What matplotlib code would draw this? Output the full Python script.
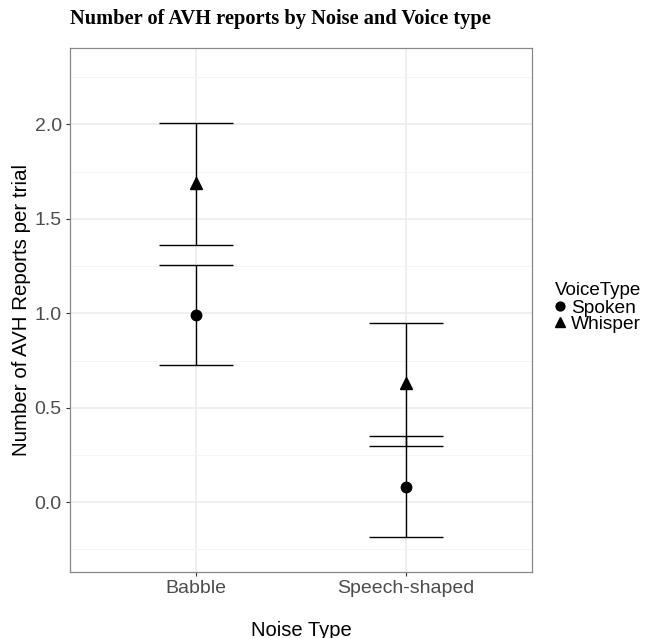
import matplotlib
matplotlib.use("Agg")
import matplotlib.pyplot as plt
import numpy as np

noise_types = ["Babble", "Speech-shaped"]
voice_types = ["Spoken", "Whisper"]
means = {"Spoken": [0.99, 0.08], "Whisper": [1.69, 0.63]}
lower = {"Spoken": [0.725, -0.185], "Whisper": [1.36, 0.298]}
upper = {"Spoken": [1.258, 0.349], "Whisper": [2.01, 0.947]}
markers = {"Spoken": "o", "Whisper": "^"}
y_ticks = [0.0, 0.5, 1.0, 1.5, 2.0]

plt.rcParams["font.family"] = ["Liberation Sans", "DejaVu Sans"]

fig = plt.figure(figsize=(6.46, 6.38), dpi=100)
ax = fig.add_axes([70/646, 1-572/638, 462/646, 524/638])

x = np.arange(1, len(noise_types)+1)
capw = 0.175
for vt in voice_types:
    ax.vlines(x, lower[vt], upper[vt], color="black", lw=1.0, zorder=3)
    ax.hlines(lower[vt], x-capw, x+capw, color="black", lw=1.0, zorder=3)
    ax.hlines(upper[vt], x-capw, x+capw, color="black", lw=1.0, zorder=3)
    ax.plot(x, means[vt], linestyle="none", marker=markers[vt], color="black",
            markersize=7.5 if vt == "Spoken" else 8.5, zorder=4, label=vt)

ax.set_xlim(0.4, 2.6)
ax.set_ylim(-0.37, 2.405)
ax.set_xticks(x)
ax.set_xticklabels(noise_types)
ax.set_yticks(y_ticks)
ax.set_yticklabels([f"{v:.1f}" for v in y_ticks])
ax.set_yticks(np.arange(-0.25, 2.4, 0.5), minor=True)

ax.grid(True, which="major", color="#EBEBEB", lw=1.1, zorder=0)
ax.grid(True, which="minor", axis="y", color="#F4F4F4", lw=0.6, zorder=0)
ax.set_axisbelow(True)
for s in ax.spines.values():
    s.set_color("#888888")
    s.set_linewidth(0.9)
ax.tick_params(axis="both", which="major", length=3, width=0.8, color="#333333",
               labelsize=14, labelcolor="#4D4D4D", pad=3)
ax.tick_params(axis="both", which="minor", length=0)

ax.set_xlabel("Noise Type", fontsize=14.5, va="center")
ax.xaxis.set_label_coords(0.5, (572-630)/524)
ax.set_ylabel("Number of AVH Reports per trial", fontsize=14.8, va="center")
ax.yaxis.set_label_coords((22-70)/462, 0.5)

fig.text(70/646, 1-19/638, "Number of AVH reports by Noise and Voice type",
         family=["Liberation Serif", "DejaVu Serif"], fontweight="bold",
         fontsize=14.7, va="center", ha="left")

leg = ax.legend(title="VoiceType", loc="center left", bbox_to_anchor=(1.02, 0.505),
                frameon=False, fontsize=13.8, title_fontsize=13.5,
                handlelength=0.6, handletextpad=0.25, borderaxespad=0.3,
                labelspacing=-0.08, markerscale=0.85)
leg._legend_box.align = "left"
leg._legend_box.sep = 0

fig.savefig("out.png", dpi=100)
